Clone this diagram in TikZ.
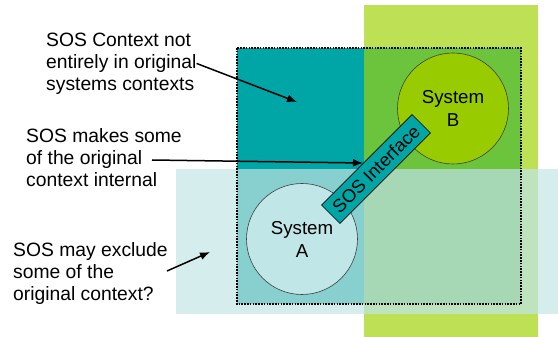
\documentclass[tikz,border=0pt]{standalone}
\usepackage{fontspec}
\setmainfont{Liberation Sans}
\usetikzlibrary{arrows.meta, positioning}

\definecolor{ctxB}{RGB}{190,224,85}
\definecolor{ctxA}{RGB}{213,237,237}
\definecolor{ctxAB}{RGB}{191,227,188}
\definecolor{sosOnly}{RGB}{0,166,166}
\definecolor{sosB}{RGB}{108,196,60}
\definecolor{sosA}{RGB}{136,208,208}
\definecolor{sosAB}{RGB}{166,216,181}
\definecolor{sysBfill}{RGB}{153,204,0}
\definecolor{sysAfill}{RGB}{192,230,232}

\tikzset{
    note/.style = {align = left, anchor = north west, inner sep = 0pt, font = \fontsize{19.3}{22}\selectfont},
    sysnode/.style = {circle, draw = black!75, line width = 0.6pt, minimum size = 111pt, inner sep = 0pt, align = center, font = \fontsize{18.7}{23}\selectfont},
    pointer/.style = {line width = 1.5pt, -{Latex[length = 10pt, width = 8pt]}}
}

\begin{document}
\begin{tikzpicture}[x = 1pt, y = -1pt]
    \useasboundingbox (0, 0) rectangle (558, 337);

    % contexts of the two systems and of the SOS
    \fill[ctxB] (364, 5) rectangle (538, 337);
    \fill[ctxA] (176, 169) rectangle (558, 314);
    \fill[ctxAB] (364, 169) rectangle (538, 314);
    \fill[sosOnly] (237, 48) rectangle (364, 169);
    \fill[sosB] (364, 48) rectangle (521, 169);
    \fill[sosA] (237, 169) rectangle (364, 304);
    \fill[sosAB] (364, 169) rectangle (521, 304);
    \draw[line width = 1.6pt, dash pattern = on 1.6pt off 1.2pt] (237, 48) rectangle (521, 304);

    \node[sysnode, fill = sysBfill] (sysB) at (453, 108.5) {System\\B};
    \node[sysnode, fill = sysAfill] (sysA) at (302, 239) {System\\A};

    \node[rotate = 45, draw = black, line width = 0.6pt, fill = sosOnly, minimum width = 128pt, minimum height = 26pt, inner sep = 0pt, font = \fontsize{18.3}{20}\selectfont] (iface) at (376, 169) {SOS Interface};

    \node[note] (notCtx) at (46, 32.5) {SOS Context not\\entirely in original\\systems contexts};
    \node[note] (internal) at (26, 128.5) {SOS makes some\\of the original\\context internal};
    \node[note] (exclude) at (13, 242) {SOS may exclude\\some of the\\original context?};

    \coordinate (fromInternal) at (152, 160);
    \coordinate (fromExclude) at (167, 271);
    \coordinate (toSos) at (297, 102);
    \coordinate (toIface) at (363, 163);
    \coordinate (toCtxA) at (210, 252);

    \draw[pointer] (notCtx.east) -- (toSos);
    \draw[pointer] (fromInternal) -- (toIface);
    \draw[pointer] (fromExclude) -- (toCtxA);
\end{tikzpicture}
\end{document}
